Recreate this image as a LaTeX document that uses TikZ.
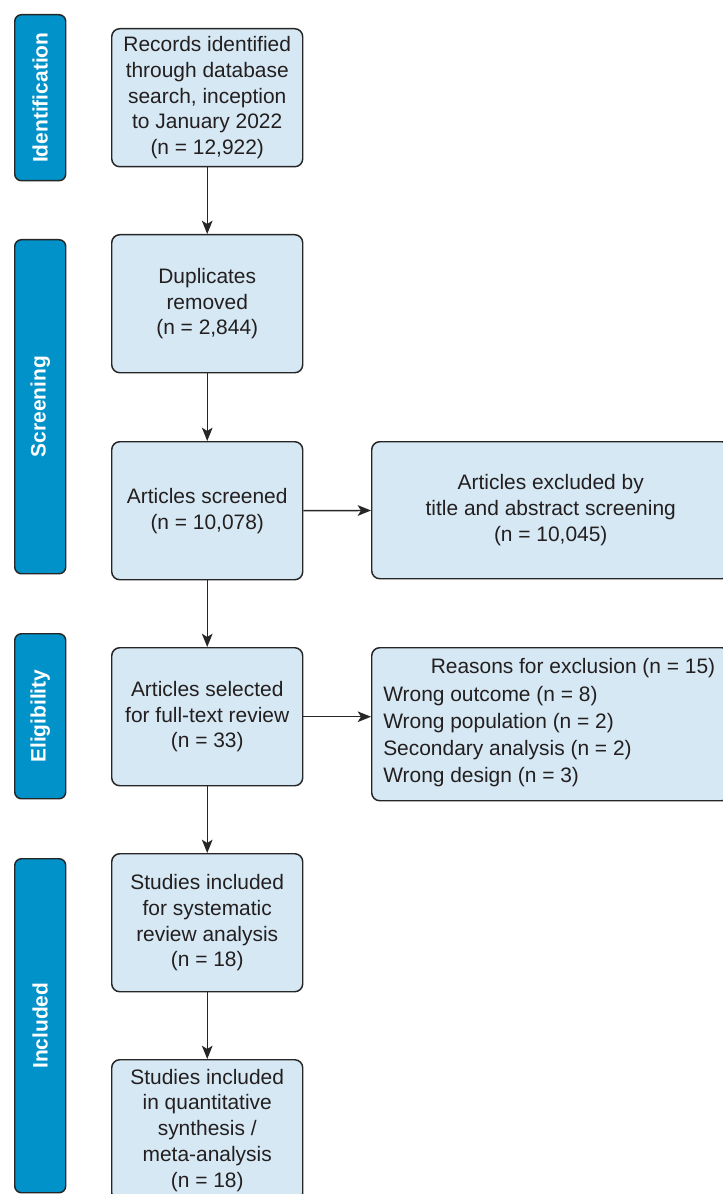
\documentclass[tikz,border=0pt]{standalone}
\usepackage{fontspec}
\setmainfont{Liberation Sans}
\usetikzlibrary{arrows.meta}
\definecolor{sidebar}{HTML}{0092C8}
\definecolor{boxfill}{HTML}{D6E8F3}
\definecolor{edge}{HTML}{262626}
\definecolor{ink}{HTML}{231F20}
\tikzset{
  stage/.style={draw=edge, line width=1.1pt, fill=sidebar, rounded corners=5pt,
    minimum width=38.25pt, anchor=north west, inner sep=0pt},
  stagelabel/.style={text=white, font=\fontsize{15.7}{18}\selectfont\bfseries,
    rotate=90, inner sep=0pt},
  flowbox/.style={draw=edge, line width=1.1pt, fill=boxfill, rounded corners=6pt,
    anchor=north west, inner sep=0pt, text=ink, align=center,
    font=\fontsize{15.7}{19.35}\selectfont},
  plaintext/.style={inner sep=0pt, text=ink, font=\fontsize{15.7}{20.25}\selectfont},
  link/.style={draw=edge, line width=1.1pt, -{Stealth[length=10pt, width=8pt, inset=2.5pt]}}
}
\begin{document}
\begin{tikzpicture}[x=0.75pt, y=-0.75pt]
\useasboundingbox (0,0) rectangle (723,1194);
\fill[white] (0,0) rectangle (723,1194);

% stage bars
\node[stage, minimum height=124.5pt] (sid) at (14,14) {};
\node[stage, minimum height=250.5pt] (sscr) at (14,239) {};
\node[stage, minimum height=123.75pt] (selig) at (14,633) {};
\node[stage, minimum height=250.5pt] (sinc) at (14,858) {};
\node[stagelabel] (lid) at (sid.center) {Identification};
\node[stagelabel] (lscr) at (sscr.center) {Screening};
\node[stagelabel] (lelig) at (selig.center) {Eligibility};
\node[stagelabel] (linc) at (sinc.center) {Included};

% main column
\node[flowbox, minimum width=143.25pt, minimum height=103.5pt] (b1) at (111,28)
  {Records identified\\through database\\search, inception\\to January 2022\\(n = 12,922)};
\node[flowbox, minimum width=143.25pt, minimum height=103.5pt] (b2) at (111,234)
  {Duplicates\\removed\\(n = 2,844)};
\node[flowbox, minimum width=143.25pt, minimum height=103.5pt] (b3) at (111,441)
  {Articles screened\\(n = 10,078)};
\node[flowbox, minimum width=143.25pt, minimum height=103.5pt] (b4) at (111,647)
  {Articles selected\\for full-text review\\(n = 33)};
\node[flowbox, minimum width=143.25pt, minimum height=103.5pt] (b5) at (111,853)
  {Studies included\\for systematic\\review analysis\\(n = 18)};
\node[flowbox, minimum width=143.25pt, minimum height=105.75pt] (b6) at (111,1059)
  {Studies included\\in quantitative\\synthesis /\\meta-analysis\\(n = 18)};

% right column
\node[flowbox, minimum width=268.5pt, minimum height=102.75pt] (r1) at (371,441)
  {Articles excluded by\\title and abstract screening\\(n = 10,045)};
\node[flowbox, minimum width=268.5pt, minimum height=114.75pt] (r2) at (371,647) {};
\node[plaintext] (r2title) at (573,668) {Reasons for exclusion (n = 15)};
\node[plaintext, anchor=west, align=left] (r2list) at (383,737)
  {Wrong outcome (n = 8)\\Wrong population (n = 2)\\Secondary analysis (n = 2)\\Wrong design (n = 3)};

% connectors
\draw[link] (b1) -- (b2);
\draw[link] (b2) -- (b3);
\draw[link] (b3) -- (b4);
\draw[link] (b4) -- (b5);
\draw[link] (b5) -- (b6);
\draw[link] (b3) -- (r1);
\draw[link] (b4.east) -- (b4.east -| r2.west);
\end{tikzpicture}
\end{document}
